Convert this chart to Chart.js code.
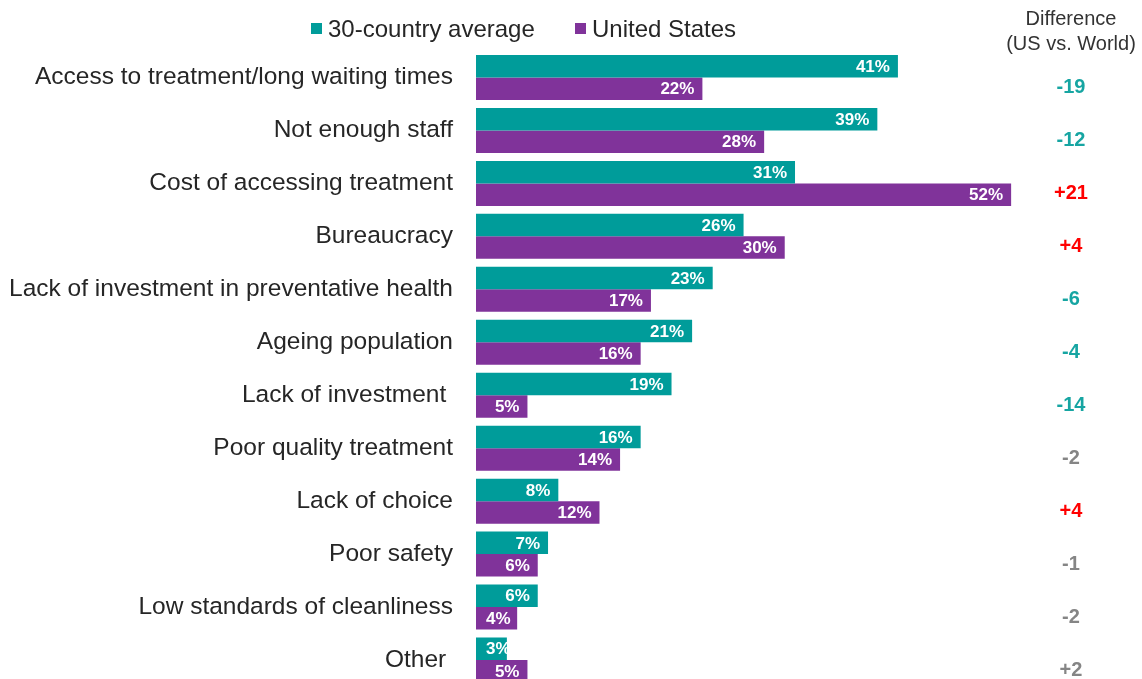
<!DOCTYPE html>
<html>
<head>
<meta charset="utf-8">
<title>Biggest problems facing the healthcare system</title>
<script src="https://cdn.jsdelivr.net/npm/chart.js@4.4.1/dist/chart.umd.min.js"></script>
<style>
  html, body { margin: 0; padding: 0; background: #fff; overflow: hidden; }
  /* the last row runs past the bottom edge */
  #wrap { width: 1142px; height: 679px; overflow: hidden; }
</style>
</head>
<body>
<div id="wrap"><canvas id="healthChart" width="1142" height="700"></canvas></div>
<script>
// Issues, in the order shown top to bottom
const issues = [
  'Access to treatment/long waiting times',
  'Not enough staff',
  'Cost of accessing treatment',
  'Bureaucracy',
  'Lack of investment in preventative health',
  'Ageing population',
  'Lack of investment ',
  'Poor quality treatment',
  'Lack of choice',
  'Poor safety',
  'Low standards of cleanliness',
  'Other '
];

// % of respondents
const worldAvg = [41, 39, 31, 26, 23, 21, 19, 16, 8, 7, 6, 3];
const unitedStates = [22, 28, 52, 30, 17, 16, 5, 14, 12, 6, 4, 5];

// Difference column (US vs. World), as published
const differences = [-19, -12, 21, 4, -6, -4, -14, -2, 4, -1, -2, 2];

const TEAL = '#009c9a';
const PURPLE = '#80339a';
const FONT = '"Liberation Sans", Arial, sans-serif';

function diffColor(d) {
  if (d <= -3) return '#16a5a2';
  if (d >= 3) return '#ff0000';
  return '#858585';
}

// White % labels inside the end of each bar
const barLabels = {
  id: 'barLabels',
  afterDatasetsDraw(chart) {
    const ctx = chart.ctx;
    const left = chart.chartArea.left;
    ctx.save();
    ctx.font = 'bold 17px ' + FONT;
    ctx.fillStyle = '#ffffff';
    ctx.textAlign = 'right';
    ctx.textBaseline = 'middle';
    chart.data.datasets.forEach((ds, di) => {
      chart.getDatasetMeta(di).data.forEach((bar, i) => {
        const txt = ds.data[i] + '%';
        const w = ctx.measureText(txt).width;
        const x = Math.max(bar.x - 8, left + 10 + w);
        ctx.fillText(txt, x, bar.y + 1);
      });
    });
    ctx.restore();
  }
};

// Legend at the top and the difference column on the right
const extras = {
  id: 'extras',
  afterDraw(chart) {
    const ctx = chart.ctx;
    const yScale = chart.scales.y;
    ctx.save();

    // legend
    ctx.font = '24px ' + FONT;
    ctx.textBaseline = 'middle';
    ctx.textAlign = 'left';
    const entries = [
      { label: '30-country average', color: TEAL, x: 311 },
      { label: 'United States', color: PURPLE, x: 575 }
    ];
    entries.forEach(e => {
      ctx.fillStyle = e.color;
      ctx.fillRect(e.x, 23, 11, 11);
      ctx.fillStyle = '#262626';
      ctx.fillText(e.label, e.x + 17, 30);
    });

    // difference header
    const cx = 1071;
    ctx.textAlign = 'center';
    ctx.font = '20px ' + FONT;
    ctx.fillStyle = '#333333';
    ctx.fillText('Difference', cx, 19);
    ctx.fillText('(US vs. World)', cx, 44);

    // difference values
    ctx.font = 'bold 20px ' + FONT;
    differences.forEach((d, i) => {
      ctx.fillStyle = diffColor(d);
      const txt = (d > 0 ? '+' : '') + d;
      ctx.fillText(txt, cx, yScale.getPixelForValue(i) + 10);
    });
    ctx.restore();
  }
};

new Chart(document.getElementById('healthChart'), {
  type: 'bar',
  data: {
    labels: issues,
    datasets: [
      {
        label: '30-country average',
        data: worldAvg,
        backgroundColor: TEAL,
        categoryPercentage: 0.85,
        barPercentage: 1
      },
      {
        label: 'United States',
        data: unitedStates,
        backgroundColor: PURPLE,
        categoryPercentage: 0.85,
        barPercentage: 1
      }
    ]
  },
  options: {
    indexAxis: 'y',
    responsive: false,
    devicePixelRatio: 1,
    animation: false,
    layout: {
      padding: { top: 51, right: 100, bottom: 13.5, left: 0 }
    },
    plugins: {
      legend: { display: false },
      tooltip: { enabled: false }
    },
    scales: {
      x: {
        display: false,
        min: 0,
        max: 55
      },
      y: {
        grid: { display: false, drawTicks: false },
        border: { display: false },
        ticks: {
          color: '#262626',
          padding: 23,
          font: { family: FONT, size: 24.5 }
        },
        afterFit(scale) {
          scale.width = 476;
          // don't let the tick labels shrink the plot vertically
          scale.paddingTop = 0;
          scale.paddingBottom = 0;
        }
      }
    }
  },
  plugins: [barLabels, extras]
});
</script>
</body>
</html>
